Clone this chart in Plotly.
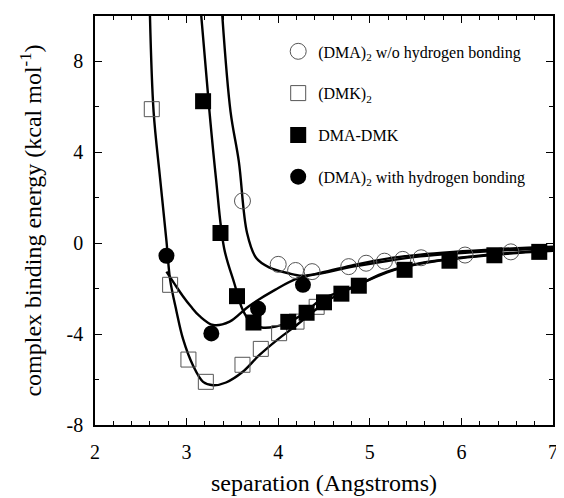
import plotly.graph_objects as go

# ---- data ----
woh_x = [3.61, 4.00, 4.19, 4.37, 4.77, 4.96, 5.16, 5.36, 5.56, 6.04, 6.54]
woh_y = [1.86, -0.93, -1.20, -1.25, -1.03, -0.88, -0.79, -0.71, -0.64, -0.52, -0.38]

dmk_x = [2.62, 2.82, 3.02, 3.21, 3.61, 3.81, 4.01, 4.20, 4.42]
dmk_y = [5.90, -1.83, -5.12, -6.10, -5.35, -4.65, -3.96, -3.45, -2.80]

mix_x = [3.18, 3.37, 3.55, 3.73, 4.11, 4.31, 4.50, 4.69, 4.88, 5.38, 5.87, 6.36, 6.85]
mix_y = [6.25, 0.45, -2.33, -3.49, -3.46, -3.06, -2.60, -2.22, -1.87, -1.17, -0.77, -0.53, -0.38]

wh_x = [2.78, 3.27, 3.78, 4.27]
wh_y = [-0.55, -3.97, -2.88, -1.83]

# fitted curves
cwoh_x = [3.39, 3.48, 3.57, 3.66, 3.76, 3.90, 4.11, 4.26, 4.47, 4.83, 5.19, 5.55, 5.91, 6.40, 7.00]
cwoh_y = [10.0, 5.78, 3.60, 0.45, -0.65, -1.06, -1.32, -1.43, -1.30, -0.95, -0.68, -0.50, -0.38, -0.26, -0.15]

cmix_x = [3.16, 3.25, 3.32, 3.41, 3.52, 3.61, 3.70, 3.82, 3.97, 4.11, 4.29, 4.47, 4.83, 5.19, 5.55, 5.91, 6.27, 6.70, 7.00]
cmix_y = [10.0, 5.78, 2.88, -0.23, -1.75, -2.91, -3.49, -3.71, -3.67, -3.49, -3.06, -2.48, -1.90, -1.25, -0.88, -0.67, -0.52, -0.38, -0.30]

cdmk_x = [2.60, 2.64, 2.71, 2.78, 2.82, 2.89, 2.96, 3.07, 3.18, 3.29, 3.43, 3.61, 3.79, 4.00, 4.18, 4.40, 4.60, 4.83, 5.19, 5.55, 5.91, 6.27, 6.70, 7.00]
cdmk_y = [10.0, 5.78, 2.88, 0.10, -1.60, -3.00, -4.20, -5.38, -6.10, -6.25, -6.13, -5.67, -4.94, -4.22, -3.67, -2.95, -2.38, -1.92, -1.28, -0.90, -0.69, -0.54, -0.40, -0.33]

cwh_x = [2.78, 2.87, 2.96, 3.05, 3.14, 3.29, 3.47, 3.68, 3.97, 4.22, 4.50, 4.83, 5.19, 5.55, 5.91, 6.40, 7.00]
cwh_y = [-1.25, -1.80, -2.33, -2.80, -3.20, -3.60, -3.45, -2.77, -2.04, -1.54, -1.30, -1.02, -0.78, -0.58, -0.45, -0.33, -0.22]

y_ticks = [-8, -4, 0, 4, 8]
y_ticktext = ["-8", "-4", "0", "4", "8"]
x_ticks = [2, 3, 4, 5, 6, 7]

names = ["(DMA)<sub>2</sub> w/o hydrogen bonding", "(DMK)<sub>2</sub>",
         "DMA-DMK", "(DMA)<sub>2</sub> with hydrogen bonding"]

FONT = "Liberation Serif, Times New Roman, serif"
fig = go.Figure()

line_style = dict(color="black", width=2.4, shape="spline", smoothing=1.0)
for cx, cy in [(cwoh_x, cwoh_y), (cmix_x, cmix_y), (cdmk_x, cdmk_y), (cwh_x, cwh_y)]:
    fig.add_trace(go.Scatter(x=cx, y=cy, mode="lines", line=line_style,
                             showlegend=False, hoverinfo="skip"))

msize = 16
fig.add_trace(go.Scatter(x=woh_x, y=woh_y, mode="markers", name=names[0], legendgroup="a",
                         marker=dict(symbol="circle-open", size=msize, color="#555",
                                     line=dict(width=1, color="#555"))))
fig.add_trace(go.Scatter(x=dmk_x, y=dmk_y, mode="markers", name=names[1], legendgroup="b",
                         marker=dict(symbol="square-open", size=msize - 1, color="#555",
                                     line=dict(width=1, color="#555"))))
fig.add_trace(go.Scatter(x=mix_x, y=mix_y, mode="markers", name=names[2], legendgroup="c",
                         marker=dict(symbol="square", size=msize, color="black",
                                     line=dict(width=0))))
fig.add_trace(go.Scatter(x=wh_x, y=wh_y, mode="markers", name=names[3], legendgroup="d",
                         marker=dict(symbol="circle", size=msize, color="black",
                                     line=dict(width=0))))

axis_common = dict(showline=True, linecolor="black", linewidth=1.5, mirror="allticks",
                   ticks="inside", tickcolor="black", tickwidth=1.2, ticklen=7,
                   showgrid=False, zeroline=False,
                   tickfont=dict(family=FONT, size=20, color="black"))

fig.update_xaxes(range=[2, 7], tickvals=x_ticks,
                 minor=dict(tickmode="linear", tick0=2, dtick=0.2, ticklen=4,
                            tickcolor="black", ticks="inside", showgrid=False),
                 title=dict(text="separation (Angstroms)", standoff=12,
                            font=dict(family=FONT, size=24, color="black")),
                 ticklabelstandoff=8,
                 **axis_common)
fig.update_yaxes(range=[-8, 10], tickvals=y_ticks, ticktext=y_ticktext,
                 minor=dict(tickmode="linear", tick0=0, dtick=2, ticklen=4,
                            tickcolor="black", ticks="inside", showgrid=False),
                 title=dict(text="complex binding energy (kcal mol<sup>-1</sup>)", standoff=18,
                            font=dict(family=FONT, size=24, color="black")),
                 ticklabelstandoff=6,
                 **axis_common)

fig.update_layout(
    width=556, height=490,
    margin=dict(l=87, r=6, t=6, b=71),
    paper_bgcolor="white", plot_bgcolor="white",
    font=dict(family=FONT, color="black"),
    legend=dict(x=0.40, y=0.955, xanchor="left", yanchor="top",
                font=dict(family=FONT, size=16, color="black"),
                bgcolor="rgba(0,0,0,0)", traceorder="grouped", tracegroupgap=18,
                itemsizing="trace"),
)

fig.write_html("out.html")
